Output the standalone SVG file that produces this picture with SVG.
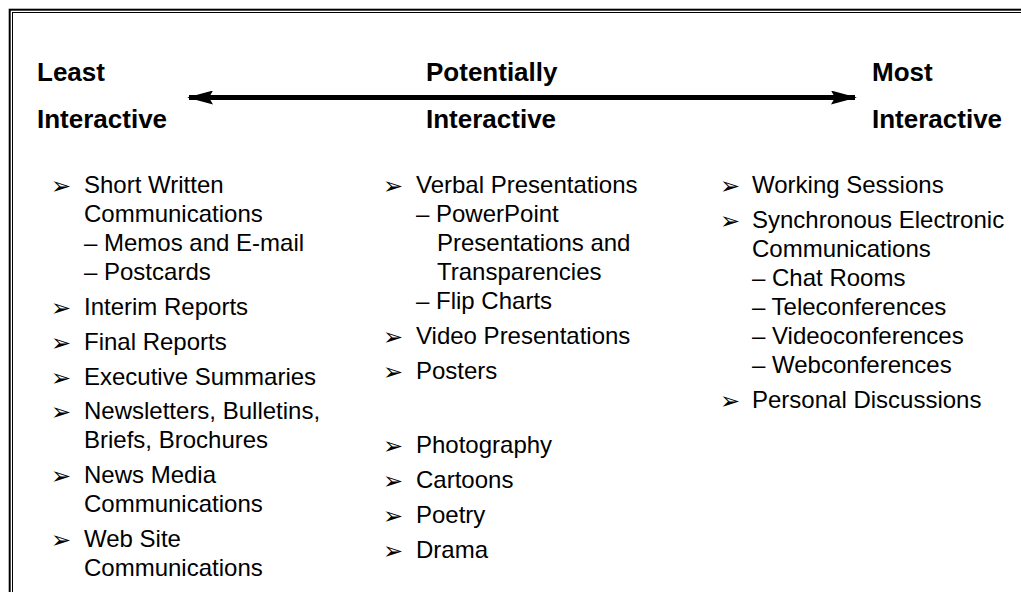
<svg xmlns="http://www.w3.org/2000/svg" width="1021" height="592" viewBox="0 0 1021 592">
  <style>
    .hd { font-family: "Liberation Sans", Arial, Helvetica, sans-serif; font-weight: bold; font-size: 26px; fill: #000; }
    .tx { font-family: "Liberation Sans", Arial, Helvetica, sans-serif; font-size: 24px; fill: #000; }
    .bl { font-family: "DejaVu Sans", sans-serif; font-size: 24px; fill: #000; }
    .frame { fill: none; stroke: #000; }
    .shaft { stroke: #000; stroke-width: 5; fill: none; }
    .head { fill: #000; stroke: none; }
  </style>
  <defs>
    <marker id="ahR" viewBox="0 0 26 14" refX="24" refY="7" markerWidth="26" markerHeight="14" markerUnits="userSpaceOnUse" orient="auto">
      <polygon class="head" points="0,0 26,7 0,14 4,7"/>
    </marker>
    <marker id="ahL" viewBox="0 0 26 14" refX="24" refY="7" markerWidth="26" markerHeight="14" markerUnits="userSpaceOnUse" orient="auto-start-reverse">
      <polygon class="head" points="0,0 26,7 0,14 4,7"/>
    </marker>
  </defs>
  <rect width="1021" height="592" fill="#fff"/>
  <g id="frame">
    <rect class="frame" x="9.7" y="9.7" width="1100" height="700" stroke-width="2"/>
    <rect class="frame" x="12.5" y="12.5" width="1100" height="700" stroke-width="1"/>
  </g>
  <g id="connectors">
    <line class="shaft" x1="189" y1="97.5" x2="855" y2="97.5" marker-start="url(#ahL)" marker-end="url(#ahR)"/>
  </g>
  <g id="least-interactive">
    <text class="hd" x="37" y="81">Least</text>
    <text class="hd" x="37" y="128">Interactive</text>
  </g>
  <g id="potentially-interactive">
    <text class="hd" x="426" y="81">Potentially</text>
    <text class="hd" x="426" y="128">Interactive</text>
  </g>
  <g id="most-interactive">
    <text class="hd" x="872" y="81">Most</text>
    <text class="hd" x="872" y="128">Interactive</text>
  </g>
  <g id="column-least">
    <text class="bl" x="51" y="194">➢</text>
    <text class="tx" x="84" y="193">Short Written</text>
    <text class="tx" x="84" y="222">Communications</text>
    <text class="tx" x="84" y="251">– Memos and E-mail</text>
    <text class="tx" x="84" y="280">– Postcards</text>
    <text class="bl" x="51" y="316">➢</text>
    <text class="tx" x="84" y="315">Interim Reports</text>
    <text class="bl" x="51" y="351">➢</text>
    <text class="tx" x="84" y="350">Final Reports</text>
    <text class="bl" x="51" y="386">➢</text>
    <text class="tx" x="84" y="385">Executive Summaries</text>
    <text class="bl" x="51" y="420">➢</text>
    <text class="tx" x="84" y="419">Newsletters, Bulletins,</text>
    <text class="tx" x="84" y="448">Briefs, Brochures</text>
    <text class="bl" x="51" y="484">➢</text>
    <text class="tx" x="84" y="483">News Media</text>
    <text class="tx" x="84" y="512">Communications</text>
    <text class="bl" x="51" y="548">➢</text>
    <text class="tx" x="84" y="547">Web Site</text>
    <text class="tx" x="84" y="576">Communications</text>
  </g>
  <g id="column-potentially">
    <text class="bl" x="383" y="194">➢</text>
    <text class="tx" x="416" y="193">Verbal Presentations</text>
    <text class="tx" x="416" y="222">– PowerPoint</text>
    <text class="tx" x="437" y="251">Presentations and</text>
    <text class="tx" x="437" y="280">Transparencies</text>
    <text class="tx" x="416" y="309">– Flip Charts</text>
    <text class="bl" x="383" y="345">➢</text>
    <text class="tx" x="416" y="344">Video Presentations</text>
    <text class="bl" x="383" y="380">➢</text>
    <text class="tx" x="416" y="379">Posters</text>
    <text class="bl" x="383" y="454">➢</text>
    <text class="tx" x="416" y="453">Photography</text>
    <text class="bl" x="383" y="489">➢</text>
    <text class="tx" x="416" y="488">Cartoons</text>
    <text class="bl" x="383" y="524">➢</text>
    <text class="tx" x="416" y="523">Poetry</text>
    <text class="bl" x="383" y="559">➢</text>
    <text class="tx" x="416" y="558">Drama</text>
  </g>
  <g id="column-most">
    <text class="bl" x="720" y="194">➢</text>
    <text class="tx" x="752" y="193">Working Sessions</text>
    <text class="bl" x="720" y="229">➢</text>
    <text class="tx" x="752" y="228">Synchronous Electronic</text>
    <text class="tx" x="752" y="257">Communications</text>
    <text class="tx" x="752" y="286">– Chat Rooms</text>
    <text class="tx" x="752" y="315">– Teleconferences</text>
    <text class="tx" x="752" y="344">– Videoconferences</text>
    <text class="tx" x="752" y="373">– Webconferences</text>
    <text class="bl" x="720" y="409">➢</text>
    <text class="tx" x="752" y="408">Personal Discussions</text>
  </g>
</svg>
